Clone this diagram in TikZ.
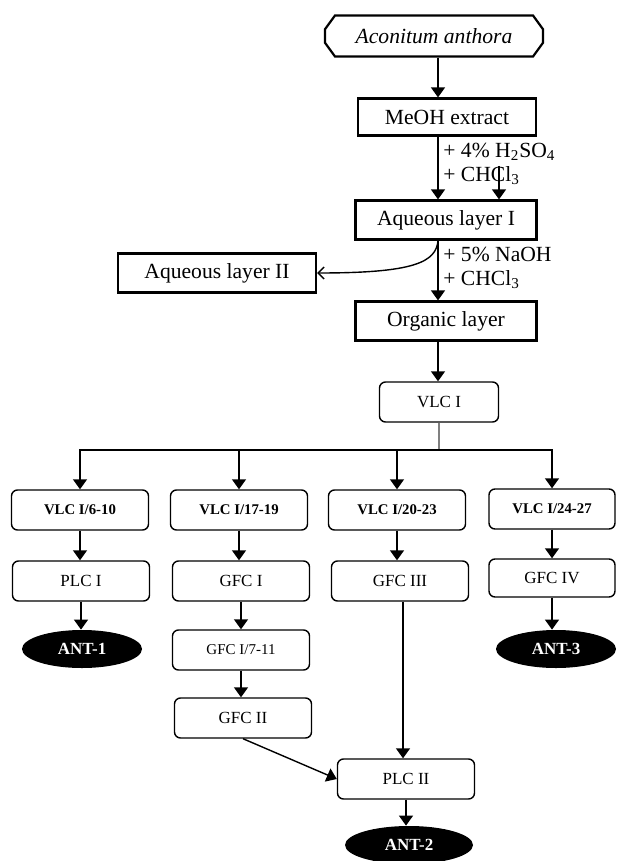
\documentclass[tikz,border=0pt]{standalone}
\usepackage{fontspec}
\setmainfont{Liberation Serif}
\usetikzlibrary{arrows.meta,shapes.misc,shapes.geometric}
\begin{document}
\begin{tikzpicture}[x=0.5pt,y=-0.5pt,
    bigfont/.style={font=\fontsize{10.8}{12}\selectfont},
    octbox/.style={draw, line width=1.1pt, chamfered rectangle,
        chamfered rectangle xsep=5.5pt, chamfered rectangle angle=36,
        minimum width=109pt, minimum height=20.5pt, inner sep=0pt, bigfont},
    thickbox/.style={draw, line width=1.1pt, minimum height=19.5pt, inner sep=0pt, bigfont},
    rbox/.style={draw, rounded corners=3pt, line width=0.7pt, minimum width=68.5pt,
        minimum height=20pt, inner sep=0pt, font=\fontsize{8.5}{10}\selectfont},
    fracbox/.style={rbox, font=\fontsize{7.4}{9}\selectfont\bfseries},
    ant/.style={ellipse, fill=black, text=white, minimum width=60pt, minimum height=19pt,
        inner sep=0pt, font=\fontsize{8.5}{10}\selectfont\bfseries},
    arr/.style={-{Triangle[width=7pt,length=5pt]}, line width=0.7pt},
    barb/.style={-{Straight Barb[length=3pt,width=6pt]}, line width=0.7pt}]
    \useasboundingbox (0,0) rectangle (617,861);

    % extraction
    \node[octbox] (src) at (434,36) {\textit{Aconitum anthora}};
    \node[thickbox, minimum width=89pt, minimum height=18.5pt] (meoh) at (447,117) {MeOH extract};
    \node[thickbox, minimum width=90.5pt] (aq1) at (446,220) {Aqueous layer I};
    \node[thickbox, minimum width=99pt] (aq2) at (217,273) {Aqueous layer II};
    \node[thickbox, minimum width=90.5pt] (org) at (446,321) {Organic layer};
    \node[anchor=west, align=left, inner sep=1pt, bigfont] (acid) at (441,164)
        {+ 4\% H\textsubscript{2}SO\textsubscript{4}\\+ CHCl\textsubscript{3}};
    \node[anchor=west, align=left, inner sep=1pt, bigfont] (base) at (441,268)
        {+ 5\% NaOH\\+ CHCl\textsubscript{3}};
    \coordinate (axis) at (438,0);
    \coordinate (drip) at (499,166);

    \draw[arr] (src.south -| axis) -- (meoh.north -| axis);
    \draw[arr] (meoh.south -| axis) -- (aq1.north -| axis);
    \draw[arr] (drip) -- (drip |- aq1.north);
    \draw[arr] (aq1.south -| axis) -- (org.north -| axis);
    \draw[barb] (aq1.south -| axis) .. controls (436,262) and (415,273) .. (aq2.east);

    % chromatography
    \node[rbox, minimum width=59.5pt] (vlc) at (439,402) {VLC I};
    \draw[arr] (org.south -| axis) -- (vlc.north -| axis);

    \node[fracbox] (vlc610) at (80,510) {VLC I/6-10};
    \node[fracbox] (vlc1719) at (239,510) {VLC I/17-19};
    \node[fracbox] (vlc2023) at (397,510) {VLC I/20-23};
    \node[fracbox, minimum width=63pt] (vlc2427) at (552,509) {VLC I/24-27};

    \coordinate (bar) at (439,450);
    \draw[gray, line width=0.7pt] (vlc) -- (bar);
    \foreach \n in {vlc610,vlc1719,vlc2023,vlc2427}
        \draw[arr] (bar) -| (\n);

    \node[rbox] (plc1) at (81,581) {PLC I};
    \node[rbox] (gfc1) at (241,581) {GFC I};
    \node[rbox] (gfc3) at (400,581) {GFC III};
    \node[rbox, minimum width=63pt, minimum height=19pt] (gfc4) at (552,578) {GFC IV};
    \node[ant] (ant1) at (82,649) {ANT-1};
    \node[rbox, font=\fontsize{7.5}{9}\selectfont] (gfc711) at (241,650) {GFC I/7-11};
    \node[ant] (ant3) at (556,649) {ANT-3};
    \node[rbox] (gfc2) at (243,718) {GFC II};
    \node[rbox] (plc2) at (406,779) {PLC II};
    \node[ant, minimum width=64pt] (ant2) at (409,845) {ANT-2};

    % straight drops, each at the x of the box above
    \foreach \a/\b in {vlc610/plc1, plc1/ant1, vlc1719/gfc1, gfc1/gfc711,
                       gfc711/gfc2, vlc2023/gfc3, plc2/ant2, vlc2427/gfc4, gfc4/ant3}
        \draw[arr] (\a.south) -- (\a.south |- \b.north);
    \draw[arr] (gfc2.south) -- (plc2.west);
    \draw[arr] ([xshift=1.5pt]gfc3.south) -- ([xshift=1.5pt]gfc3.south |- plc2.north);
\end{tikzpicture}
\end{document}
